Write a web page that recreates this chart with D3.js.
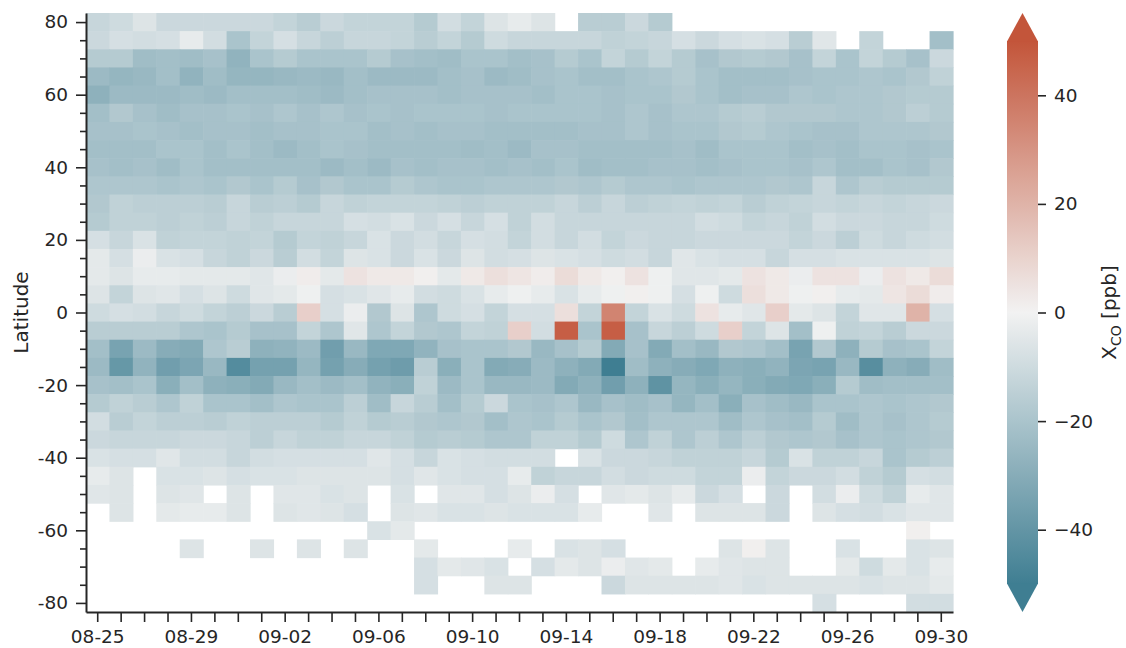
<!DOCTYPE html>
<html>
<head>
<meta charset="utf-8">
<script src="https://d3js.org/d3.v7.min.js"></script>
<style>
  body { margin: 0; background: #fff; }
  svg text { font-family: "DejaVu Sans", sans-serif; fill: #262626; }
</style>
</head>
<body>
<svg id="chart" width="1126" height="648"></svg>
<script>
const _ = null; // no data

const days = ["08-25", "08-26", "08-27", "08-28", "08-29", "08-30", "08-31",
  "09-01", "09-02", "09-03", "09-04", "09-05", "09-06", "09-07", "09-08", "09-09", "09-10",
  "09-11", "09-12", "09-13", "09-14", "09-15", "09-16", "09-17", "09-18", "09-19", "09-20",
  "09-21", "09-22", "09-23", "09-24", "09-25", "09-26", "09-27", "09-28", "09-29", "09-30"];
const dayLabels = ["08-25", "08-29", "09-02", "09-06", "09-10", "09-14", "09-18", "09-22", "09-26", "09-30"];

const latitudes = [80, 75, 70, 65, 60, 55, 50, 45, 40, 35, 30, 25, 20, 15, 10, 5, 0,
  -5, -10, -15, -20, -25, -30, -35, -40, -45, -50, -55, -60, -65, -70, -75, -80];
const latLabels = [80, 60, 40, 20, 0, -20, -40, -60, -80];
const cbarTicks = [-40, -20, 0, 20, 40];

// XCO anomaly [ppb], one array per latitude band, one value per day
const n80 = [-12,-10,-6,-11,-11,-11,-11,-11,-13,-16,-11,-13,-13,-13,-17,-9,-13,-6,-3,-6,_,-16,-16,-11,-17,_,_,_,_,_,_,_,_,_,_,_,_];
const n75 = [-11,-8,-9,-8,-3,-9,-20,-13,-8,-12,-15,-12,-12,-13,-16,-13,-17,-10,-12,-12,-12,-12,-14,-13,-12,-8,-11,-8,-7,-8,-16,-5,_,-13,_,_,-22];
const n70 = [-17,-17,-23,-22,-23,-21,-27,-20,-17,-20,-20,-20,-17,-21,-22,-23,-20,-20,-22,-21,-17,-20,-13,-17,-13,-17,-21,-18,-17,-18,-21,-13,-20,-13,-17,-21,-11];
const n65 = [-24,-26,-25,-22,-27,-23,-26,-26,-25,-24,-25,-22,-24,-24,-24,-22,-21,-24,-23,-21,-20,-22,-22,-20,-19,-17,-20,-22,-22,-22,-21,-20,-20,-19,-20,-18,-14];
const n60 = [-28,-24,-24,-24,-23,-24,-22,-22,-22,-23,-24,-22,-21,-21,-21,-22,-21,-21,-21,-22,-20,-20,-21,-20,-20,-18,-20,-22,-21,-21,-19,-20,-19,-19,-18,-17,-17];
const n55 = [-22,-18,-21,-23,-21,-21,-20,-21,-19,-21,-19,-21,-20,-21,-20,-20,-20,-21,-20,-20,-20,-20,-21,-19,-21,-19,-19,-17,-16,-18,-18,-18,-19,-19,-18,-15,-17];
const n50 = [-21,-21,-20,-21,-22,-21,-21,-22,-21,-21,-20,-20,-22,-21,-22,-21,-21,-22,-22,-22,-22,-21,-21,-19,-21,-20,-20,-18,-17,-19,-20,-21,-21,-19,-19,-19,-18];
const n45 = [-22,-22,-22,-20,-20,-22,-20,-22,-24,-22,-20,-21,-22,-22,-22,-22,-23,-22,-24,-21,-21,-22,-22,-22,-22,-21,-23,-20,-20,-20,-22,-21,-22,-20,-20,-21,-20];
const n40 = [-21,-22,-21,-23,-20,-22,-22,-22,-22,-22,-24,-22,-24,-21,-22,-21,-21,-22,-21,-22,-20,-23,-22,-22,-21,-21,-22,-21,-20,-20,-21,-19,-22,-22,-20,-21,-18];
const n35 = [-19,-19,-19,-20,-19,-20,-18,-20,-17,-21,-18,-20,-20,-17,-19,-20,-20,-19,-19,-19,-18,-19,-17,-19,-19,-20,-19,-19,-19,-18,-19,-12,-19,-16,-17,-17,-17];
const n30 = [-18,-14,-15,-15,-15,-16,-12,-16,-15,-17,-12,-14,-13,-13,-13,-14,-15,-14,-14,-14,-12,-15,-12,-15,-14,-13,-14,-13,-16,-14,-13,-12,-13,-12,-13,-12,-11];
const n25 = [-17,-14,-14,-15,-14,-15,-12,-14,-12,-12,-12,-8,-9,-7,-11,-8,-12,-8,-14,-9,-12,-12,-12,-12,-12,-12,-9,-10,-13,-12,-14,-9,-11,-11,-12,-12,-10];
const n20 = [-8,-12,-7,-14,-13,-13,-14,-13,-17,-13,-14,-12,-7,-11,-9,-12,-8,-9,-13,-9,-12,-9,-13,-11,-12,-12,-11,-11,-11,-11,-13,-11,-15,-10,-12,-10,-9];
const n15 = [-4,-8,-2,-7,-8,-12,-14,-11,-16,-9,-13,-6,-7,-11,-7,-11,-6,-9,-8,-6,-7,-8,-10,-9,-12,-5,-7,-8,-8,-12,-8,-8,-7,-7,-7,-7,-6];
const n10 = [-4,-6,-3,-3,-4,-4,-4,-5,-2,2,-4,5,3,3,1,-4,3,6,4,2,7,3,1,5,-1,-5,-5,-4,5,3,-2,5,5,-2,5,3,7];
const n05 = [-6,-13,-6,-5,-8,-6,-10,-5,-4,-1,-8,-7,-5,-3,-9,-10,-7,-3,-1,-3,-7,-3,-1,1,-1,-8,-1,-10,6,3,-1,1,-3,-4,4,7,2];
const eq00 = [-10,-8,-9,-12,-10,-13,-15,-11,-16,11,-8,-2,-18,-6,-19,-10,-8,-13,-8,-8,6,-13,35,-13,-7,-10,5,-3,-5,11,-4,-6,-13,-5,-5,20,-8];
const s05 = [-16,-16,-16,-16,-19,-20,-17,-21,-21,-13,-19,-5,-19,-13,-18,-19,-13,-14,11,-9,47,-20,47,-21,-12,-15,-10,11,-13,-6,-22,-1,-14,-13,-16,-11,-11];
const s10 = [-22,-34,-24,-30,-31,-19,-16,-28,-27,-24,-36,-25,-32,-32,-27,-21,-20,-20,-18,-25,-21,-17,-31,-21,-31,-22,-25,-18,-19,-22,-34,-18,-28,-17,-21,-20,-13];
const s15 = [-24,-39,-27,-36,-33,-25,-44,-35,-35,-26,-35,-30,-35,-37,-16,-29,-20,-31,-30,-24,-28,-31,-50,-23,-28,-30,-32,-28,-29,-27,-33,-34,-25,-43,-28,-30,-23];
const s20 = [-21,-22,-20,-29,-22,-28,-29,-31,-25,-22,-24,-22,-27,-29,-14,-24,-20,-25,-25,-24,-31,-28,-36,-28,-41,-26,-29,-26,-29,-31,-32,-29,-17,-23,-22,-22,-22];
const s25 = [-17,-14,-16,-19,-14,-20,-20,-22,-19,-20,-20,-15,-23,-12,-16,-22,-17,-11,-20,-21,-19,-25,-21,-23,-21,-26,-22,-29,-21,-23,-25,-20,-20,-19,-20,-19,-18];
const s30 = [-9,-16,-13,-15,-15,-16,-14,-15,-15,-15,-17,-14,-17,-16,-18,-19,-18,-22,-19,-20,-17,-20,-18,-22,-19,-19,-19,-23,-19,-21,-22,-17,-23,-19,-21,-19,-17];
const s35 = [-11,-12,-12,-12,-11,-11,-12,-15,-12,-14,-14,-12,-12,-14,-17,-16,-17,-19,-19,-14,-14,-17,-10,-19,-14,-19,-15,-19,-15,-18,-19,-18,-21,-19,-20,-19,-18];
const s40 = [-7,-8,-8,-5,-9,-9,-12,-9,-8,-8,-8,-8,-5,-8,-12,-7,-8,-9,-9,-9,_,-7,-11,-11,-12,-14,-14,-14,-12,-17,-7,-14,-14,-12,-20,-17,-15];
const s45 = [-3,-6,_,-7,-7,-6,-8,-7,-7,-6,-6,-6,-6,-8,-5,-7,-8,-8,-3,-14,-12,-12,-9,-11,-10,-10,-13,-13,-2,-13,-11,-11,-9,-14,-17,-8,-9];
const s50 = [-5,-6,_,-6,-5,_,-6,_,-5,-5,-7,-6,_,-7,_,-5,-5,-8,-6,-2,-8,_,-5,-4,-6,-3,-11,-8,_,-11,_,-9,-2,-10,-14,-3,-5];
const s55 = [_,-6,_,-4,-3,-3,-6,_,-6,-5,-6,-8,_,-6,-5,-7,-7,-6,-7,-7,-7,-3,_,_,-5,_,-6,-6,-6,-11,_,-6,-8,-9,-7,-5,-5];
const s60 = [_,_,_,_,_,_,_,_,_,_,_,_,-7,-4,_,_,_,_,_,_,_,_,_,_,_,_,_,_,_,_,_,_,_,_,_,1,_];
const s65 = [_,_,_,_,-6,_,_,-6,_,-6,_,-6,_,_,-4,_,_,_,-3,_,-7,-6,-8,_,_,_,_,-6,1,-6,_,_,-7,_,_,-7,-6];
const s70 = [_,_,_,_,_,_,_,_,_,_,_,_,_,_,-8,-4,-5,-7,_,-8,-4,-6,-2,-5,-4,_,-3,-5,-6,-6,_,_,-4,-10,-4,-7,-3];
const s75 = [_,_,_,_,_,_,_,_,_,_,_,_,_,_,-8,_,_,-6,-6,_,_,_,-11,-6,-6,-6,-6,-5,-7,-6,-6,-6,-6,-7,-6,-6,-4];
const s80 = [_,_,_,_,_,_,_,_,_,_,_,_,_,_,_,_,_,_,_,_,_,_,_,_,_,_,_,_,_,_,_,-8,_,_,_,-9,-9];

const rows = [n80, n75, n70, n65, n60, n55, n50, n45, n40, n35, n30, n25, n20, n15, n10, n05, eq00,
  s05, s10, s15, s20, s25, s30, s35, s40, s45, s50, s55, s60, s65, s70, s75, s80];

const plot = { left: 86, right: 953, top: 13, bottom: 612 };
const ink = "#262626";

const svg = d3.select("#chart");

const x = d3.scaleBand().domain(days).range([plot.left, plot.right]);
const y = d3.scaleBand().domain(latitudes).range([plot.top, plot.bottom]);
const yLin = d3.scaleLinear().domain([82.5, -82.5]).range([plot.top, plot.bottom]);

const color = d3.scaleLinear()
  .domain([-50, 0, 50])
  .range(["#3f7e92", "#f2f2f2", "#c3553a"])
  .clamp(true);

const cells = [];
rows.forEach((vals, i) => {
  vals.forEach((v, j) => {
    if (v !== null) cells.push({ day: days[j], lat: latitudes[i], value: v });
  });
});

svg.append("g")
  .selectAll("rect")
  .data(cells)
  .join("rect")
  .attr("x", d => x(d.day))
  .attr("y", d => y(d.lat))
  .attr("width", x.bandwidth() + 0.6)
  .attr("height", y.bandwidth() + 0.6)
  .attr("fill", d => color(d.value));

// x axis: a tick every day, a label every 4 days
const xAxis = svg.append("g")
  .attr("transform", `translate(0,${plot.bottom})`)
  .call(d3.axisBottom(x)
    .tickSize(10)
    .tickPadding(8)
    .tickSizeOuter(0)
    .tickFormat(d => dayLabels.includes(d) ? d : ""));

// y axis: minor ticks every 5 degrees, labels every 20
const yAxis = svg.append("g")
  .attr("transform", `translate(${plot.left},0)`)
  .call(d3.axisLeft(yLin)
    .tickValues(latitudes)
    .tickSize(6)
    .tickPadding(8)
    .tickSizeOuter(0)
    .tickFormat(d => latLabels.includes(d) ? String(d) : ""));
yAxis.selectAll(".tick")
  .filter(d => latLabels.includes(d))
  .select("line")
  .attr("x2", -10);
yAxis.selectAll(".tick text").attr("x", -18);

[xAxis, yAxis].forEach(g => {
  g.select(".domain").attr("stroke", ink).attr("stroke-width", 2);
  g.selectAll(".tick line").attr("stroke", ink).attr("stroke-width", 1.6);
  g.selectAll(".tick text").attr("fill", ink).style("font-size", "18.5px")
    .style("font-family", "'DejaVu Sans', sans-serif");
});

svg.append("text")
  .attr("transform", `translate(28,${(plot.top + plot.bottom) / 2}) rotate(-90)`)
  .attr("text-anchor", "middle")
  .style("font-size", "20px")
  .text("Latitude");

// colorbar with extend triangles
const cb = { x: 1007, w: 31, top: 41, bottom: 584, tipTop: 13, tipBottom: 612 };
const cbScale = d3.scaleLinear().domain([-50, 50]).range([cb.bottom, cb.top]);

const grad = svg.append("defs").append("linearGradient")
  .attr("id", "cbgrad")
  .attr("x1", 0).attr("y1", 1).attr("x2", 0).attr("y2", 0);
grad.selectAll("stop")
  .data(d3.range(-50, 51, 5))
  .join("stop")
  .attr("offset", d => (d + 50) / 100)
  .attr("stop-color", d => color(d));

svg.append("rect")
  .attr("x", cb.x).attr("y", cb.top)
  .attr("width", cb.w).attr("height", cb.bottom - cb.top)
  .attr("fill", "url(#cbgrad)");

svg.append("path")
  .attr("d", `M${cb.x},${cb.top + 0.5}L${cb.x + cb.w},${cb.top + 0.5}L${cb.x + cb.w / 2},${cb.tipTop}Z`)
  .attr("fill", color(50));
svg.append("path")
  .attr("d", `M${cb.x},${cb.bottom - 0.5}L${cb.x + cb.w},${cb.bottom - 0.5}L${cb.x + cb.w / 2},${cb.tipBottom}Z`)
  .attr("fill", color(-50));

const cbAxis = svg.append("g")
  .attr("transform", `translate(${cb.x + cb.w},0)`)
  .call(d3.axisRight(cbScale)
    .tickValues(cbarTicks)
    .tickSize(8)
    .tickPadding(8)
    .tickFormat(d => d < 0 ? "\u2212" + Math.abs(d) : String(d)));
cbAxis.select(".domain").remove();
cbAxis.selectAll(".tick line").attr("stroke", ink).attr("stroke-width", 1.6);
cbAxis.selectAll(".tick text").attr("fill", ink).style("font-size", "18.5px")
  .style("font-family", "'DejaVu Sans', sans-serif");

const cbLabel = svg.append("text")
  .attr("transform", `translate(1116,${(plot.top + plot.bottom) / 2}) rotate(-90)`)
  .attr("text-anchor", "middle")
  .style("font-size", "20px");
cbLabel.append("tspan").text("X");
cbLabel.append("tspan").attr("dy", 5).style("font-size", "14px").text("CO");
cbLabel.append("tspan").attr("dy", -5).text(" [ppb]");
</script>
</body>
</html>
